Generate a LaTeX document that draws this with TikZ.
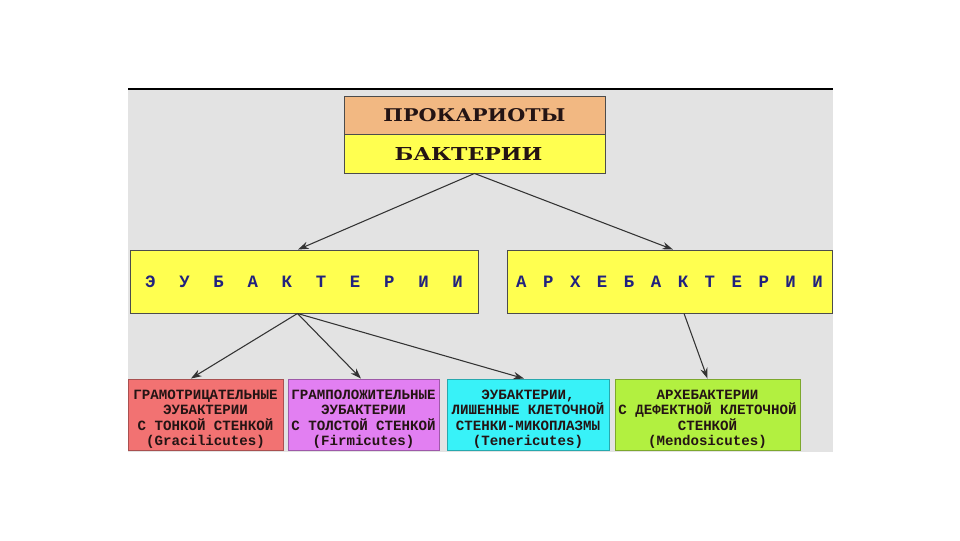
\documentclass[tikz,border=0pt]{standalone}
\usepackage{fontspec}
\usetikzlibrary{arrows.meta}
\newfontfamily\hdfont{DejaVu Serif}
\newfontfamily\mfont{Liberation Mono}
\definecolor{bggray}{HTML}{E3E3E3}
\definecolor{peach}{HTML}{F2B882}
\definecolor{yel}{HTML}{FFFF50}
\definecolor{redbox}{HTML}{F27272}
\definecolor{purbox}{HTML}{E27FF2}
\definecolor{cyanbox}{HTML}{38F2F8}
\definecolor{grnbox}{HTML}{B2F040}
\definecolor{navy}{HTML}{22227E}
\definecolor{darktxt}{HTML}{241414}
\newlength\lw
\newcommand\Lb[1]{\makebox[\lw]{#1}}
\tikzset{
  box/.style={draw=#1, line width=0.7pt, inner sep=0pt, rectangle},
  box/.default={black!70},
  conn/.style={draw=black!80, line width=0.8pt, -{Stealth[length=8pt,width=5.5pt]}},
  small/.style={font=\mfont\bfseries\fontsize{10.6}{11.5}\selectfont, text=darktxt, align=center},
  big/.style={font=\mfont\bfseries\fontsize{13}{15}\selectfont, text=navy}
}
\begin{document}
\begin{tikzpicture}[x=0.75pt,y=-0.75pt]
\useasboundingbox (0,0) rectangle (960,540);
\fill[white] (0,0) rectangle (960,540);
\fill[bggray] (128,89) rectangle (833,452);
\draw[black, line width=1.1pt] (128,89) -- (833,89);

\node[box, fill=peach, minimum width=195.75pt, minimum height=28.5pt] (prok) at (474.5,115)
  {\hdfont\bfseries\color{darktxt}\resizebox{136.5pt}{9.75pt}{ПРОКАРИОТЫ}};
\node[box, fill=yel, minimum width=195.75pt, minimum height=29.25pt] (bakt) at (474.5,153.5)
  {\hdfont\bfseries\color{darktxt}\hspace*{-9pt}\resizebox{111pt}{9.75pt}{БАКТЕРИИ}};

\node[box, fill=yel, minimum width=261pt, minimum height=47.25pt, big] (eu) at (304,281.5)
  {\setlength\lw{25.6pt}\Lb{Э}\Lb{У}\Lb{Б}\Lb{А}\Lb{К}\Lb{Т}\Lb{Е}\Lb{Р}\Lb{И}\Lb{И}};
\node[box, fill=yel, minimum width=243.75pt, minimum height=47.25pt, big] (arch) at (669.5,281.5)
  {\setlength\lw{20.2pt}\Lb{А}\Lb{Р}\Lb{Х}\Lb{Е}\Lb{Б}\Lb{А}\Lb{К}\Lb{Т}\Lb{Е}\Lb{Р}\Lb{И}\Lb{И}};

\node[box=redbox!70!black, fill=redbox, minimum width=116.25pt, minimum height=53.25pt,
  label={[small, yshift=-3.5pt]center:ГРАМОТРИЦАТЕЛЬНЫЕ\\ЭУБАКТЕРИИ\\С ТОНКОЙ СТЕНКОЙ\\(Gracilicutes)}] (gr) at (205.5,414.5) {};
\node[box=purbox!70!black, fill=purbox, minimum width=113.25pt, minimum height=53.25pt,
  label={[small, yshift=-3.5pt]center:ГРАМПОЛОЖИТЕЛЬНЫЕ\\ЭУБАКТЕРИИ\\С ТОЛСТОЙ СТЕНКОЙ\\(Firmicutes)}] (fi) at (363.5,414.5) {};
\node[box=cyanbox!70!black, fill=cyanbox, minimum width=121.5pt, minimum height=53.25pt,
  label={[small, yshift=-3.5pt]center:ЭУБАКТЕРИИ,\\ЛИШЕННЫЕ КЛЕТОЧНОЙ\\СТЕНКИ-МИКОПЛАЗМЫ\\(Tenericutes)}] (te) at (528,414.5) {};
\node[box=grnbox!70!black, fill=grnbox, minimum width=138.75pt, minimum height=53.25pt,
  label={[small, yshift=-3.5pt]center:АРХЕБАКТЕРИИ\\С ДЕФЕКТНОЙ КЛЕТОЧНОЙ\\СТЕНКОЙ\\(Mendosicutes)}] (me) at (707.5,414.5) {};

\coordinate (eus) at ([xshift=-4.9pt]eu.south);
\coordinate (archs) at ([xshift=10.9pt]arch.south);
\draw[conn] (bakt.south) -- ([xshift=-4.5pt]eu.north);
\draw[conn] (bakt.south) -- ([xshift=2.6pt]arch.north);
\draw[conn] (eus) -- ([xshift=-10.9pt]gr.north);
\draw[conn] (eus) -- ([xshift=-1.9pt]fi.north);
\draw[conn] (eus) -- ([xshift=-3pt]te.north);
\draw[conn] (archs) -- (me.north);
\end{tikzpicture}
\end{document}
